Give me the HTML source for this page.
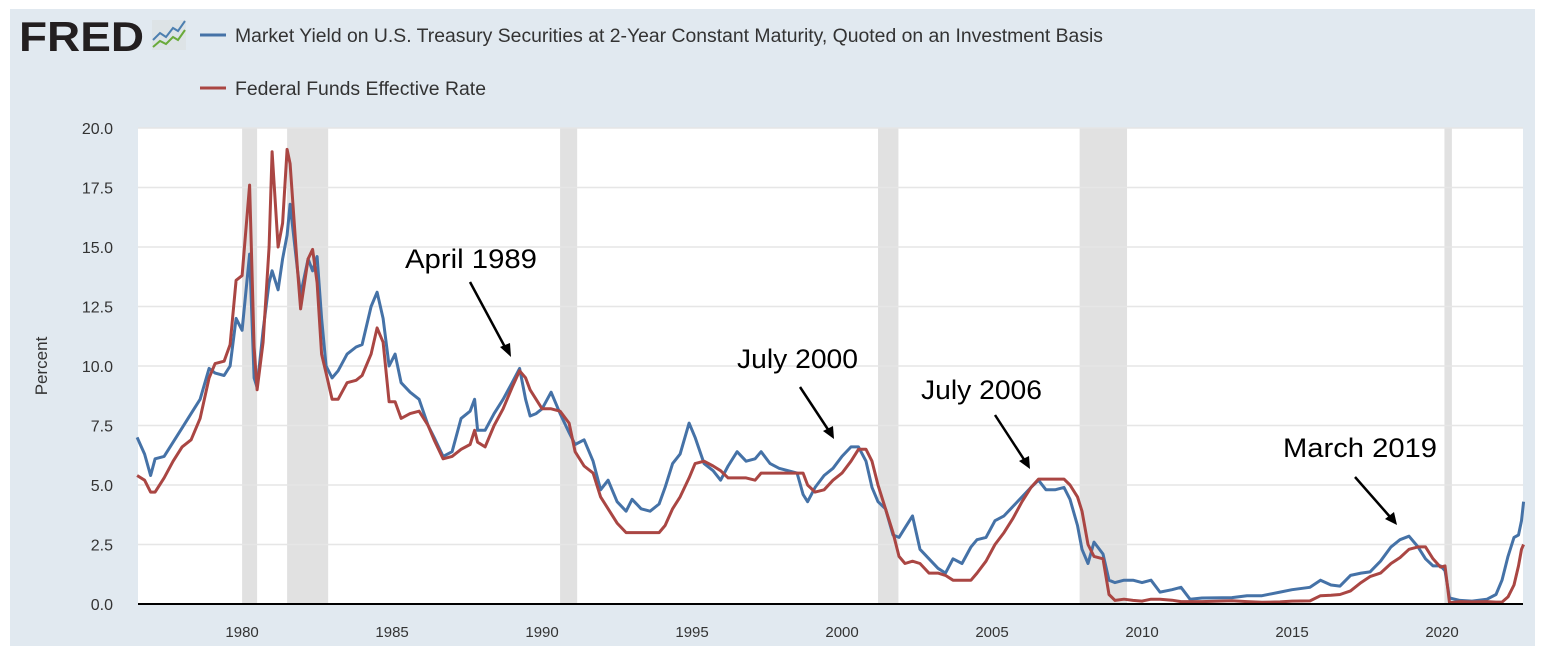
<!DOCTYPE html>
<html><head><meta charset="utf-8"><style>
body{margin:0;background:#fff;width:1544px;height:656px;overflow:hidden;font-family:"Liberation Sans",sans-serif}
</style></head><body>
<svg width="1544" height="656">
<rect x="10" y="9" width="1525" height="637" fill="#e1e9f0"/>
<text x="19" y="51" font-size="42" font-weight="bold" fill="#231f20" textLength="125" lengthAdjust="spacingAndGlyphs">FRED</text>
<g><rect x="152" y="20" width="34" height="30" fill="#dde3e6"/><polyline points="153,40 160,33 166,37 173,28 178,31 185,21" fill="none" stroke="#4d7fb0" stroke-width="2"/><polyline points="153,47 160,41 166,44 173,37 178,40 185,30" fill="none" stroke="#6aaa3a" stroke-width="2"/></g>
<line x1="200" y1="35" x2="226" y2="35" stroke="#4572a7" stroke-width="3"/>
<text x="235" y="42" font-size="19" fill="#333" textLength="868" lengthAdjust="spacingAndGlyphs">Market Yield on U.S. Treasury Securities at 2-Year Constant Maturity, Quoted on an Investment Basis</text>
<line x1="200" y1="88" x2="226" y2="88" stroke="#aa4643" stroke-width="3"/>
<text x="235" y="95" font-size="19" fill="#333" textLength="251" lengthAdjust="spacingAndGlyphs">Federal Funds Effective Rate</text>
<rect x="138" y="128" width="1385" height="476" fill="#fff"/>
<g id="rec"></g><g id="grid"></g><g id="series"></g>
<line x1="138" y1="604" x2="1523" y2="604" stroke="#000" stroke-width="2"/>
<text transform="translate(47,366) rotate(-90)" text-anchor="middle" font-size="17" fill="#333">Percent</text>
<g font-size="27" fill="#000">
<text x="405" y="268" textLength="132" lengthAdjust="spacingAndGlyphs">April 1989</text>
<line x1="470" y1="282" x2="506" y2="349" stroke="#000" stroke-width="2.5"/><polygon points="511,357 500,347 510,343" fill="#000"/>
<text x="737" y="368" textLength="121" lengthAdjust="spacingAndGlyphs">July 2000</text>
<line x1="800" y1="387" x2="829" y2="431" stroke="#000" stroke-width="2.5"/><polygon points="834,439 823,431 833,426" fill="#000"/>
<text x="921" y="399" textLength="121" lengthAdjust="spacingAndGlyphs">July 2006</text>
<line x1="995" y1="415" x2="1025" y2="461" stroke="#000" stroke-width="2.5"/><polygon points="1030,469 1019,461 1029,456" fill="#000"/>
<text x="1283" y="457" textLength="154" lengthAdjust="spacingAndGlyphs">March 2019</text>
<line x1="1355" y1="477" x2="1391" y2="518" stroke="#000" stroke-width="2.5"/><polygon points="1397,525 1385,519 1394,512" fill="#000"/>
</g>
</svg>
<script>
const recessions=[[1980.0,1980.5],[1981.5,1982.87],[1990.6,1991.17],[2001.2,2001.88],[2007.92,2009.5],[2020.08,2020.33]];
const yTicks=[0,2.5,5,7.5,10,12.5,15,17.5,20];
const xTicks=[1980,1985,1990,1995,2000,2005,2010,2015,2020];
const dates=[1976.5,1976.75,1976.95,1977.1,1977.4,1977.7,1978.0,1978.3,1978.6,1978.9,1979.1,1979.4,1979.6,1979.8,1980.0,1980.25,1980.4,1980.5,1980.7,1980.9,1981.0,1981.2,1981.35,1981.5,1981.6,1981.85,1981.95,1982.2,1982.35,1982.5,1982.65,1982.8,1983.0,1983.2,1983.5,1983.8,1984.0,1984.3,1984.5,1984.7,1984.9,1985.1,1985.3,1985.6,1985.9,1986.2,1986.4,1986.7,1987.0,1987.3,1987.6,1987.75,1987.85,1988.1,1988.4,1988.7,1989.0,1989.25,1989.45,1989.6,1989.8,1990.0,1990.3,1990.6,1990.9,1991.1,1991.4,1991.7,1991.95,1992.2,1992.5,1992.8,1993.0,1993.3,1993.6,1993.9,1994.1,1994.35,1994.6,1994.9,1995.1,1995.4,1995.7,1995.95,1996.2,1996.5,1996.8,1997.1,1997.3,1997.6,1997.9,1998.2,1998.5,1998.7,1998.85,1999.1,1999.4,1999.7,2000.0,2000.3,2000.55,2000.8,2001.0,2001.2,2001.45,2001.7,2001.9,2002.1,2002.35,2002.6,2002.9,2003.2,2003.45,2003.7,2004.0,2004.3,2004.5,2004.8,2005.1,2005.4,2005.7,2006.0,2006.3,2006.55,2006.8,2007.1,2007.4,2007.6,2007.85,2008.0,2008.2,2008.4,2008.7,2008.9,2009.1,2009.4,2009.7,2010.0,2010.3,2010.6,2011.0,2011.3,2011.6,2012.0,2013.0,2013.5,2014.0,2014.6,2015.0,2015.6,2015.95,2016.3,2016.6,2016.95,2017.3,2017.6,2017.95,2018.3,2018.6,2018.9,2019.2,2019.45,2019.7,2019.95,2020.1,2020.25,2020.6,2021.0,2021.5,2021.8,2022.0,2022.2,2022.4,2022.55,2022.65,2022.72];
const fedFunds=[5.4,5.2,4.7,4.7,5.3,6.0,6.6,6.9,7.8,9.5,10.1,10.2,10.9,13.6,13.8,17.6,10.8,9.0,11.0,15.0,19.0,15.0,16.0,19.1,18.5,14.0,12.4,14.5,14.9,13.5,10.5,9.7,8.6,8.6,9.3,9.4,9.6,10.5,11.6,11.0,8.5,8.5,7.8,8.0,8.1,7.5,6.9,6.1,6.2,6.5,6.7,7.3,6.8,6.6,7.5,8.2,9.1,9.8,9.5,9.0,8.6,8.2,8.2,8.1,7.6,6.4,5.8,5.5,4.5,4.0,3.4,3.0,3.0,3.0,3.0,3.0,3.3,4.0,4.5,5.3,5.9,6.0,5.8,5.6,5.3,5.3,5.3,5.2,5.5,5.5,5.5,5.5,5.5,5.5,5.0,4.7,4.8,5.2,5.5,6.0,6.5,6.5,6.0,5.0,4.0,3.0,2.0,1.7,1.8,1.7,1.3,1.3,1.2,1.0,1.0,1.0,1.3,1.8,2.5,3.0,3.6,4.3,4.9,5.25,5.25,5.25,5.25,5.0,4.5,3.9,2.5,2.0,1.9,0.4,0.15,0.2,0.15,0.12,0.2,0.2,0.16,0.1,0.1,0.1,0.14,0.1,0.07,0.09,0.12,0.13,0.35,0.37,0.4,0.55,0.9,1.15,1.3,1.7,1.95,2.3,2.4,2.4,1.9,1.55,1.6,0.05,0.1,0.09,0.1,0.08,0.08,0.3,0.8,1.6,2.3,2.5];
const treasury2y=[7.0,6.3,5.4,6.1,6.2,6.8,7.4,8.0,8.6,9.9,9.7,9.6,10.0,12.0,11.5,14.7,9.5,9.1,11.5,13.5,14.0,13.2,14.5,15.5,16.8,14.0,13.0,14.5,14.0,14.6,12.0,10.0,9.5,9.8,10.5,10.8,10.9,12.5,13.1,12.0,10.0,10.5,9.3,8.9,8.6,7.5,7.0,6.2,6.4,7.8,8.1,8.6,7.3,7.3,8.0,8.6,9.3,9.9,8.6,7.9,8.0,8.2,8.9,8.0,7.2,6.7,6.9,6.0,4.8,5.2,4.3,3.9,4.4,4.0,3.9,4.2,4.9,5.9,6.3,7.6,7.0,5.9,5.6,5.2,5.8,6.4,6.0,6.1,6.4,5.9,5.7,5.6,5.5,4.6,4.3,4.9,5.4,5.7,6.2,6.6,6.6,6.0,4.9,4.3,4.0,2.9,2.8,3.2,3.7,2.3,1.9,1.5,1.3,1.9,1.7,2.4,2.7,2.8,3.5,3.7,4.1,4.5,4.9,5.2,4.8,4.8,4.9,4.4,3.3,2.3,1.7,2.6,2.1,1.0,0.9,1.0,1.0,0.9,1.0,0.5,0.6,0.7,0.2,0.25,0.27,0.35,0.35,0.5,0.6,0.7,1.0,0.8,0.75,1.2,1.3,1.35,1.8,2.4,2.7,2.85,2.4,1.9,1.6,1.6,1.4,0.25,0.15,0.12,0.2,0.4,1.0,2.0,2.8,2.9,3.5,4.3];
const X0=138,X1=1523,Y0=604,Y1=128,T0=1976.53,T1=2022.7;
const xs=t=>X0+(t-T0)/(T1-T0)*(X1-X0);
const ys=v=>Y0-v/20*(Y0-Y1);
const NS='http://www.w3.org/2000/svg';
function mk(tag,attrs,parent){const e=document.createElementNS(NS,tag);for(const k in attrs)e.setAttribute(k,attrs[k]);document.getElementById(parent).appendChild(e);return e;}
recessions.forEach(r=>{const e=mk('rect',{x:xs(r[0]),y:Y1,width:xs(r[1])-xs(r[0]),height:Y0-Y1,fill:'#e1e1e1'},'rec');

});
yTicks.forEach(v=>{if(v>0){const l=mk('line',{x1:X0,x2:X1,y1:ys(v),y2:ys(v),stroke:'#e6e6e6','stroke-width':1.5},'grid');

}
const t=mk('text',{x:113,y:ys(v)+6,'text-anchor':'end','font-size':16,fill:'#333'},'grid');t.textContent=v.toFixed(1);

});
xTicks.forEach(y=>{const t=mk('text',{x:xs(y),y:637,'text-anchor':'middle','font-size':15,fill:'#333'},'grid');t.textContent=y;

});
function line(vals,color,name){const p=mk('polyline',{points:dates.map((d,i)=>xs(d).toFixed(1)+','+ys(vals[i]).toFixed(1)).join(' '),fill:'none',stroke:color,'stroke-width':3,'stroke-linejoin':'round'},'series');

}
line(treasury2y,'#4572a7','series-2yr-treasury');
line(fedFunds,'#aa4643','series-fed-funds');
</script>
</body></html>
